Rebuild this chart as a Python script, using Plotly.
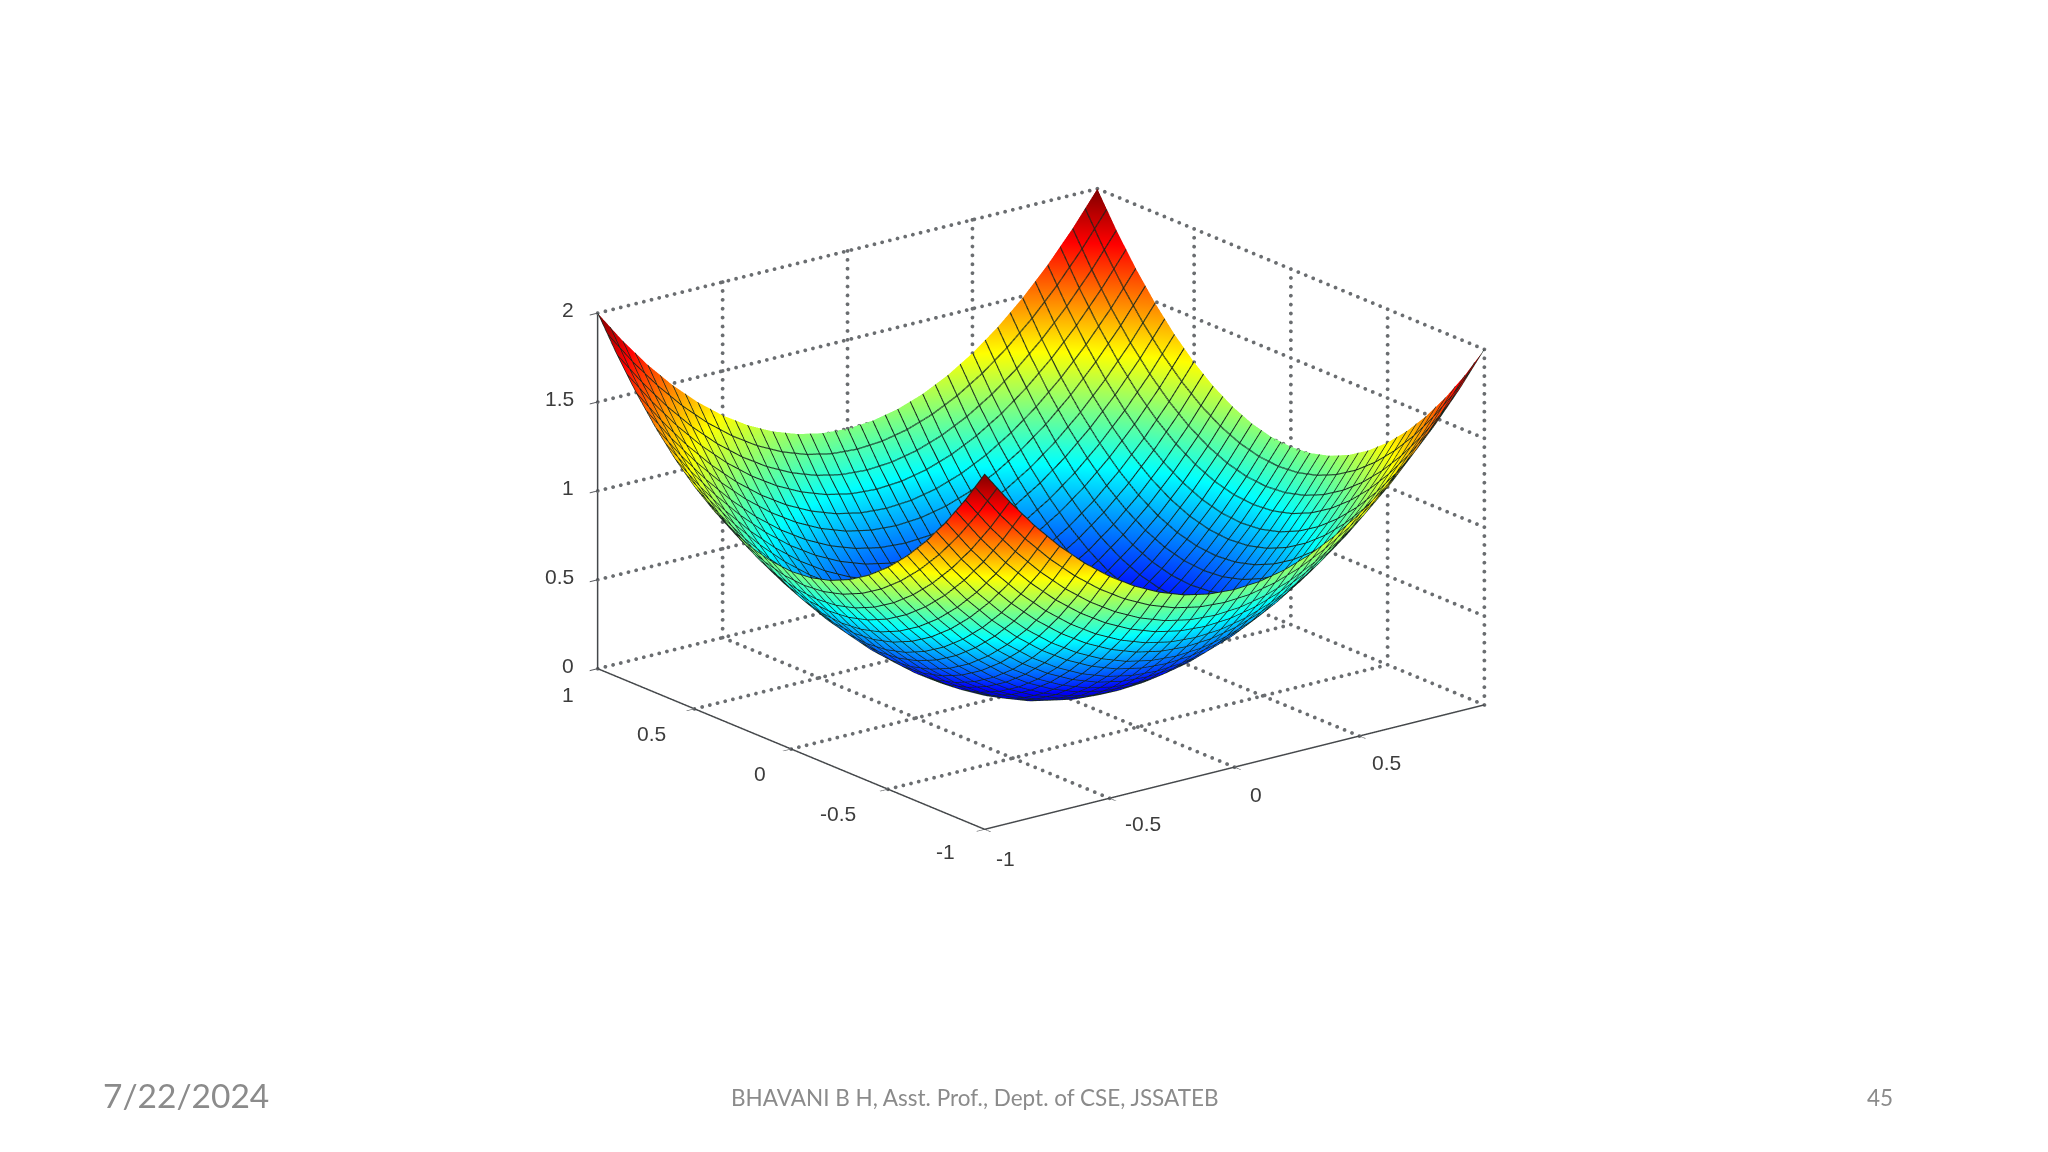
import plotly.graph_objects as go

x_nodes = [-1.0,-0.9,-0.8,-0.7,-0.6,-0.5,-0.4,-0.3,-0.2,-0.1,0.0,0.1,0.2,0.3,0.4,0.5,0.6,0.7,0.8,0.9,1.0]
y_nodes = [-1.0,-0.9,-0.8,-0.7,-0.6,-0.5,-0.4,-0.3,-0.2,-0.1,0.0,0.1,0.2,0.3,0.4,0.5,0.6,0.7,0.8,0.9,1.0]
z_rows = [
[2.00,1.81,1.64,1.49,1.36,1.25,1.16,1.09,1.04,1.01,1.00,1.01,1.04,1.09,1.16,1.25,1.36,1.49,1.64,1.81,2.00],
[1.81,1.62,1.45,1.30,1.17,1.06,0.97,0.90,0.85,0.82,0.81,0.82,0.85,0.90,0.97,1.06,1.17,1.30,1.45,1.62,1.81],
[1.64,1.45,1.28,1.13,1.00,0.89,0.80,0.73,0.68,0.65,0.64,0.65,0.68,0.73,0.80,0.89,1.00,1.13,1.28,1.45,1.64],
[1.49,1.30,1.13,0.98,0.85,0.74,0.65,0.58,0.53,0.50,0.49,0.50,0.53,0.58,0.65,0.74,0.85,0.98,1.13,1.30,1.49],
[1.36,1.17,1.00,0.85,0.72,0.61,0.52,0.45,0.40,0.37,0.36,0.37,0.40,0.45,0.52,0.61,0.72,0.85,1.00,1.17,1.36],
[1.25,1.06,0.89,0.74,0.61,0.50,0.41,0.34,0.29,0.26,0.25,0.26,0.29,0.34,0.41,0.50,0.61,0.74,0.89,1.06,1.25],
[1.16,0.97,0.80,0.65,0.52,0.41,0.32,0.25,0.20,0.17,0.16,0.17,0.20,0.25,0.32,0.41,0.52,0.65,0.80,0.97,1.16],
[1.09,0.90,0.73,0.58,0.45,0.34,0.25,0.18,0.13,0.10,0.09,0.10,0.13,0.18,0.25,0.34,0.45,0.58,0.73,0.90,1.09],
[1.04,0.85,0.68,0.53,0.40,0.29,0.20,0.13,0.08,0.05,0.04,0.05,0.08,0.13,0.20,0.29,0.40,0.53,0.68,0.85,1.04],
[1.01,0.82,0.65,0.50,0.37,0.26,0.17,0.10,0.05,0.02,0.01,0.02,0.05,0.10,0.17,0.26,0.37,0.50,0.65,0.82,1.01],
[1.00,0.81,0.64,0.49,0.36,0.25,0.16,0.09,0.04,0.01,0.00,0.01,0.04,0.09,0.16,0.25,0.36,0.49,0.64,0.81,1.00],
[1.01,0.82,0.65,0.50,0.37,0.26,0.17,0.10,0.05,0.02,0.01,0.02,0.05,0.10,0.17,0.26,0.37,0.50,0.65,0.82,1.01],
[1.04,0.85,0.68,0.53,0.40,0.29,0.20,0.13,0.08,0.05,0.04,0.05,0.08,0.13,0.20,0.29,0.40,0.53,0.68,0.85,1.04],
[1.09,0.90,0.73,0.58,0.45,0.34,0.25,0.18,0.13,0.10,0.09,0.10,0.13,0.18,0.25,0.34,0.45,0.58,0.73,0.90,1.09],
[1.16,0.97,0.80,0.65,0.52,0.41,0.32,0.25,0.20,0.17,0.16,0.17,0.20,0.25,0.32,0.41,0.52,0.65,0.80,0.97,1.16],
[1.25,1.06,0.89,0.74,0.61,0.50,0.41,0.34,0.29,0.26,0.25,0.26,0.29,0.34,0.41,0.50,0.61,0.74,0.89,1.06,1.25],
[1.36,1.17,1.00,0.85,0.72,0.61,0.52,0.45,0.40,0.37,0.36,0.37,0.40,0.45,0.52,0.61,0.72,0.85,1.00,1.17,1.36],
[1.49,1.30,1.13,0.98,0.85,0.74,0.65,0.58,0.53,0.50,0.49,0.50,0.53,0.58,0.65,0.74,0.85,0.98,1.13,1.30,1.49],
[1.64,1.45,1.28,1.13,1.00,0.89,0.80,0.73,0.68,0.65,0.64,0.65,0.68,0.73,0.80,0.89,1.00,1.13,1.28,1.45,1.64],
[1.81,1.62,1.45,1.30,1.17,1.06,0.97,0.90,0.85,0.82,0.81,0.82,0.85,0.90,0.97,1.06,1.17,1.30,1.45,1.62,1.81],
[2.00,1.81,1.64,1.49,1.36,1.25,1.16,1.09,1.04,1.01,1.00,1.01,1.04,1.09,1.16,1.25,1.36,1.49,1.64,1.81,2.00],
]
x_ticks = [-1, -0.5, 0, 0.5]
x_tick_labels = ["-1", "-0.5", "0", "0.5"]
y_ticks = [-1, -0.5, 0, 0.5, 1]
y_tick_labels = ["-1", "-0.5", "0", "0.5", "1"]
z_ticks = [0, 0.5, 1, 1.5, 2]
z_tick_labels = ["0", "0.5", "1", "1.5", "2"]
inner = [-0.5, 0, 0.5]

# screen offsets of the tick labels, in pixels
x_label_dx = [21, 33, 21, 27]
x_label_dy = [-29, -25, -27, -26]
y_label_dx = [-39, -50, -31, -43, -30]
y_label_dy = [-22, -24, -24, -24, -25]

jet = [[0, "#00008f"], [0.125, "#0000ff"], [0.375, "#00ffff"], [0.625, "#ffff00"], [0.875, "#ff0000"], [1, "#800000"]]

def mesh(d, color):
    return dict(
        x=dict(show=True, start=-1 + d, end=1 + d, size=0.05, color=color, width=4),
        y=dict(show=True, start=-1 + d, end=1 + d, size=0.05, color=color, width=4),
    )

surface = go.Surface(
    x=x_nodes, y=y_nodes, z=z_rows, colorscale=jet, cmin=0, cmax=2, showscale=False,
    lighting=dict(ambient=1, diffuse=0, specular=0, roughness=1, fresnel=0),
    hoverinfo="skip", contours=mesh(0, "#14261d"),
)
thicken = [
    go.Surface(x=x_nodes, y=y_nodes, z=z_rows, colorscale=jet, cmin=0, cmax=2, showscale=False,
               hidesurface=True, hoverinfo="skip", contours=mesh(0.0018, "#14261d"))
]

gx, gy, gz = [], [], []
def seg(a, b, n):
    for i in range(n + 1):
        t = i / n
        gx.append(a[0] + (b[0] - a[0]) * t)
        gy.append(a[1] + (b[1] - a[1]) * t)
        gz.append(a[2] + (b[2] - a[2]) * t)
NX, NY, NZ = 65, 52, 40
for v in inner:
    seg((v, -1, 0), (v, 1, 0), NY)
    seg((-1, v, 0), (1, v, 0), NX)
    seg((v, 1, 0), (v, 1, 2), NZ)
    seg((1, v, 0), (1, v, 2), NZ)
for h in z_ticks[1:]:
    seg((-1, 1, h), (1, 1, h), NX)
    seg((1, 1, h), (1, -1, h), NY)
seg((-1, 1, 0), (1, 1, 0), NX)
seg((1, 1, 0), (1, -1, 0), NY)
seg((1, -1, 0), (1, -1, 2), NZ)
seg((1, 1, 0), (1, 1, 2), NZ)
grid = go.Scatter3d(x=gx, y=gy, z=gz, mode="markers",
                    marker=dict(color="#6a6d70", size=2.2, line=dict(width=0)),
                    hoverinfo="skip", showlegend=False)

box_edges = go.Scatter3d(x=[-1, -1, -1, 1], y=[1, 1, -1, -1], z=[2, 0, 0, 0], mode="lines",
                         line=dict(color="#505356", width=3), hoverinfo="skip", showlegend=False)

label_font = dict(family="Liberation Sans", size=21, color="#3c3c3c")
def axis(tv, rng):
    return dict(range=rng, tickvals=tv, showticklabels=False, title=dict(text=""),
                showgrid=False, zeroline=False, showbackground=False, showspikes=False,
                showline=True, linecolor="#44474a", linewidth=3, ticks="outside", ticklen=10,
                tickcolor="#55585c", tickwidth=2)

scene_labels = []
for v, t, dx, dy in zip(x_ticks, x_tick_labels, x_label_dx, x_label_dy):
    scene_labels.append(dict(x=v, y=-1, z=0, text=t, showarrow=False, xshift=dx, yshift=dy, font=label_font))
for v, t, dx, dy in zip(y_ticks, y_tick_labels, y_label_dx, y_label_dy):
    scene_labels.append(dict(x=-1, y=v, z=0, text=t, showarrow=False, xshift=dx, yshift=dy, font=label_font))
for v, t in zip(z_ticks, z_tick_labels):
    scene_labels.append(dict(x=-1, y=1, z=v, text=t, showarrow=False, xanchor="right", xshift=-22, yshift=4, font=label_font))

fig = go.Figure([surface, *thicken, grid, box_edges])
fig.update_layout(
    width=2048, height=1152, margin=dict(l=0, r=0, t=0, b=0), paper_bgcolor="white", showlegend=False,
    scene=dict(
        domain=dict(x=[0.0162, 0.9928], y=[0.1307, 0.9987]),
        xaxis=axis(x_ticks, [-1, 1]),
        yaxis=axis(y_ticks, [-1, 1]),
        zaxis=axis(z_ticks, [0, 2]),
        aspectmode="manual", aspectratio=dict(x=1.264, y=1.264, z=0.751),
        camera=dict(eye=dict(x=-0.869, y=-1.122, z=0.482), up=dict(x=0, y=0, z=1),
                    center=dict(x=0, y=0, z=0), projection=dict(type="orthographic")),
        annotations=scene_labels,
    ),
    annotations=[
        dict(text="7/22/2024", x=93/2048, y=1-1087/1152, xref="paper", yref="paper", xanchor="left", yanchor="middle",
             showarrow=False, font=dict(family="Lato", size=33.5, color="#8b8b8b")),
        dict(text="BHAVANI B H, Asst. Prof., Dept. of CSE, JSSATEB", x=967/2048, y=1-1089/1152, xref="paper", yref="paper",
             xanchor="center", yanchor="middle", showarrow=False, font=dict(family="Lato", size=22.5, color="#8b8b8b")),
        dict(text="45", x=1871.5/2048, y=1-1089/1152, xref="paper", yref="paper", xanchor="center", yanchor="middle",
             showarrow=False, font=dict(family="Lato", size=22.5, color="#8b8b8b")),
    ],
)
fig.write_html("out.html")
